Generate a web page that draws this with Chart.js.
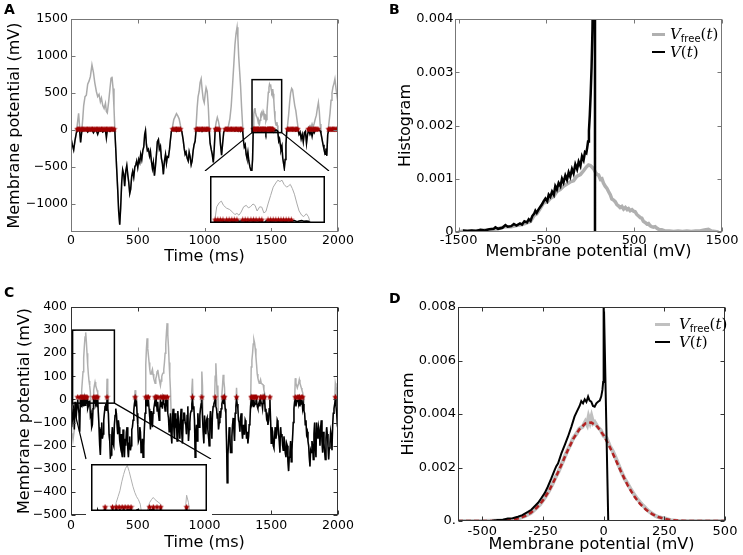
<!DOCTYPE html>
<html>
<head>
<meta charset="utf-8">
<title>Membrane potential and histograms</title>
<script src="https://cdn.jsdelivr.net/npm/chart.js@4.4.1/dist/chart.umd.min.js"></script>
<style>
  html, body { margin: 0; padding: 0; background: #fff; }
  #fig { position: relative; width: 743px; height: 555px; overflow: hidden; }
  #fig canvas { position: absolute; }
  .inset { background: #fff; }
  .panel { position: absolute; font: bold 14px "DejaVu Sans", sans-serif; line-height: 14px; }
  .leg { position: absolute; font: 15px "DejaVu Serif", serif; line-height: 18px; white-space: nowrap; }
  .leg sub { font: 10px "DejaVu Sans", sans-serif; vertical-align: -3px; }
  .sw { position: absolute; height: 0; }
</style>
</head>
<body>
<div id="fig">
  <canvas id="chartA" width="372" height="278" style="left:0;top:0"></canvas>
  <canvas id="chartB" width="371" height="278" style="left:372px;top:0"></canvas>
  <canvas id="chartC" width="372" height="277" style="left:0;top:278px"></canvas>
  <canvas id="chartD" width="371" height="277" style="left:372px;top:278px"></canvas>
  <canvas id="insetA" class="inset" width="125" height="57" style="left:205px;top:171px"></canvas>
  <canvas id="insetC" class="inset" width="126" height="57" style="left:86px;top:459px"></canvas>

  <div class="panel" style="left:4px;top:2px">A</div>
  <div class="panel" style="left:389px;top:2px">B</div>
  <div class="panel" style="left:4px;top:285px">C</div>
  <div class="panel" style="left:389px;top:291px">D</div>

  <div class="sw" style="left:652px;top:33px;width:13px;border-top:3px solid #b0b0b0"></div>
  <div class="leg" style="left:670px;top:25px"><i>V</i><sub>free</sub>(<i>t</i>)</div>
  <div class="sw" style="left:652px;top:51px;width:13px;border-top:2.5px solid #000"></div>
  <div class="leg" style="left:670px;top:43px"><i>V</i>(<i>t</i>)</div>

  <div class="sw" style="left:655px;top:323px;width:15px;border-top:3px solid #c0c0c0"></div>
  <div class="leg" style="left:679px;top:315px"><i>V</i><sub>free</sub>(<i>t</i>)</div>
  <div class="sw" style="left:655px;top:341px;width:15px;border-top:2.5px solid #000"></div>
  <div class="leg" style="left:679px;top:333px"><i>V</i>(<i>t</i>)</div>
</div>

<script>
// ---- panel A: membrane potential trace (ms, mV) ----
const timeA = [
  0,10,20,30,40,50,57,65,72,80,
  88,95,105,115,125,135,145,157,168,178,
  190,200,210,220,228,238,248,258,265,272,
  282,292,300,307,315,322,328,335,342,350,
  357,365,372,380,387,395,402,410,418,425,
  432,440,447,455,462,470,478,485,492,500,
  508,515,522,530,538,545,552,558,565,572,
  580,588,595,602,610,617,625,632,640,647,
  655,662,670,677,685,692,700,708,715,722,
  730,738,745,752,760,770,780,790,800,810,
  820,830,840,848,855,862,870,878,885,892,
  900,907,915,922,930,937,945,952,960,967,
  975,982,990,998,1005,1012,1020,1028,1035,1042,
  1050,1058,1066,1073,1080,1088,1096,1104,1112,1120,
  1128,1136,1144,1152,1160,1170,1180,1190,1200,1210,
  1220,1228,1236,1244,1250,1256,1263,1270,1278,1285,
  1292,1298,1305,1312,1318,1325,1332,1340,1347,1354,
  1360,1365,1369,1374,1378,1382,1388,1394,1400,1404,
  1408,1412,1416,1421,1426,1430,1434,1439,1443,1447,
  1452,1456,1460,1464,1468,1473,1478,1483,1487,1491,
  1495,1499,1504,1508,1511,1515,1519,1524,1528,1533,
  1537,1542,1546,1550,1556,1562,1568,1573,1580,1586,
  1592,1598,1604,1610,1616,1622,1630,1638,1645,1653,
  1660,1668,1676,1684,1692,1700,1708,1716,1724,1732,
  1740,1748,1756,1764,1772,1780,1790,1798,1806,1814,
  1822,1830,1838,1846,1853,1860,1866,1872,1880,1888,
  1895,1903,1910,1916,1923,1930,1940,1948,1955,1962,
  1970,1977,1985,1992,2000
];
const vFreeA = [
  -110,-200,-270,-140,-40,120,225,30,-170,-30,
  150,330,450,470,620,660,720,880,780,640,
  520,450,480,380,430,330,290,360,250,230,
  380,560,700,720,560,300,20,-250,-520,-810,
  -1100,-1280,-1050,-700,-540,-600,-760,-560,-480,-600,
  -700,-860,-800,-620,-560,-640,-500,-470,-420,-510,
  -400,-440,-330,-400,-280,-230,-60,-10,-200,-280,
  -260,-350,-290,-420,-520,-440,-620,-500,-330,-160,
  -130,-260,-220,-380,-460,-600,-420,-330,-450,-360,
  -370,-260,-130,-20,40,140,180,220,190,150,
  60,-20,-130,-250,-330,-300,-380,-420,-300,-360,
  -470,-420,-280,-200,-150,50,300,450,520,640,
  690,550,420,370,480,570,520,330,60,-180,
  -260,-330,-440,-250,20,110,170,120,40,-200,
  -340,-180,-30,10,30,20,60,150,320,600,
  900,1150,1300,1390,1250,1000,800,600,300,80,
  -150,-230,-200,-330,-380,-300,-420,-500,-540,-570,
  -400,-10,211,275,297,233,190,169,126,92,
  110,83,130,211,233,195,211,254,232,147,
  211,205,118,140,254,382,510,574,616,595,
  616,552,510,531,552,488,403,254,147,83,
  62,105,60,-40,-150,-120,-200,-270,-220,-380,
  -450,-520,-400,-200,-20,60,200,380,500,560,
  540,430,330,260,150,40,-60,-30,-120,-60,
  -160,-40,-20,-180,-60,40,60,30,80,40,
  90,150,200,300,370,250,80,-40,-120,-200,
  -260,-330,-250,-350,-60,60,220,400,500,580,
  630,690,560,470,360
];
const vA = [
  -110,-200,-270,-140,-40,-5,0,-20,-170,-30,
  0,-10,-5,0,-30,-5,-10,0,-40,-5,
  -10,-60,-5,-15,-5,-30,-10,-5,-110,-10,
  -5,-20,-5,0,-10,-5,0,-250,-520,-810,
  -1100,-1280,-1050,-700,-540,-600,-760,-560,-480,-600,
  -700,-860,-800,-620,-560,-640,-500,-470,-420,-510,
  -400,-440,-330,-400,-280,-230,-60,-10,-200,-280,
  -260,-350,-290,-420,-520,-440,-620,-500,-330,-160,
  -130,-260,-220,-380,-460,-600,-420,-330,-450,-360,
  -370,-260,-130,-20,-5,-10,0,-20,-5,-15,
  0,-20,-130,-250,-330,-300,-380,-420,-300,-360,
  -470,-420,-280,-200,-150,-5,-10,0,-15,-5,
  0,-20,-5,-10,0,-15,-5,0,-10,-180,
  -260,-330,-440,-250,-5,-10,0,-10,-5,-200,
  -340,-180,-30,-5,0,-10,-5,0,-10,-5,
  0,-15,-5,0,-10,-5,0,-20,-5,0,
  -150,-230,-200,-330,-380,-300,-420,-500,-540,-570,
  -400,-10,-5,-5,0,-10,-5,0,-15,-5,
  0,-10,-5,0,-20,-5,0,-10,-5,0,
  -10,-5,-40,-5,0,-10,-5,0,-10,-5,
  0,-20,-5,0,-10,-5,0,-15,-5,0,
  -10,-5,-10,-40,-150,-120,-200,-270,-220,-380,
  -450,-520,-400,-200,-20,-5,-10,0,-5,0,
  -10,-5,0,-15,-5,0,-60,-30,-120,-60,
  -160,-40,-20,-180,-60,-5,-60,-20,-90,-10,
  -40,-5,0,-10,0,-5,-10,-40,-120,-200,
  -260,-330,-250,-350,-60,-5,-10,0,-5,0,
  -10,-5,0,-10,-5
];
const spikesA = [
  47,57,66,76,85,95,104,114,123,133,142,152,161,171,180,190,199,209,218,228,
  237,247,256,266,275,285,294,304,313,323,
  762,771,781,790,800,809,819,
  938,947,957,966,976,985,995,1004,1014,1023,1032,
  1082,1091,1100,1109,
  1155,1164,1174,1183,1193,1202,1212,1221,1231,1240,1250,1259,1269,1278,
  1366,1371,1376,1381,1388,1393,1398,1403,1408,
  1419,1424,1429,1435,1440,1445,1451,1456,
  1468,1473,1478,1483,1488,1493,1498,1503,1508,1513,
  1622,1631,1641,1650,1660,1669,1679,1688,1698,
  1778,1787,1796,1805,1814,1823,1832,1841,1850,
  1930,1939,1948,1958,1967,1976,1986,1995
];
const spikeLevelA = 10;
const insetTA = [1356, 1578];
const insetVA = [-36, 680];
const ticksAX = [0, 500, 1000, 1500, 2000];
const labelsAX = ['0', '500', '1000', '1500', '2000'];
const ticksAY = [-1000, -500, 0, 500, 1000, 1500];
const labelsAY = ['\u22121000', '\u2212500', '0', '500', '1000', '1500'];

// ---- panel B: histograms ----
const binsVB = [-1450,-1400,-1350,-1300,-1250,-1200,-1150,-1100,-1080,-1050,
  -1000,-966,-940,-900,-870,-840,-800,-777,-750,-720,
  -700,-680,-660,-640,-625,-610,-590,-570,-549,-530,
  -510,-490,-473,-455,-435,-415,-398,-380,-360,-340,
  -322,-305,-284,-265,-246,-228,-208,-190,-170,-150,
  -132,-112,-94,-76,-60,-45,-35,-25,-15,-5,
  5,15,25,33,50,54];
const histVB = [0.00003,0.00002,0.00003,0.00002,0.00004,0.00003,0.00005,0.00006,0.00009,0.00006,
  0.00008,0.00013,0.0001,0.00011,0.00015,0.00012,0.00016,0.00014,0.0002,0.00018,
  0.00024,0.00021,0.0003,0.00034,0.0004,0.00036,0.00042,0.00047,0.00052,0.00058,
  0.00063,0.00058,0.0007,0.00066,0.00076,0.0007,0.00086,0.0008,0.00092,0.00086,
  0.001,0.00093,0.00106,0.00098,0.00112,0.00104,0.00118,0.0011,0.00127,0.00118,
  0.00132,0.00124,0.00142,0.00135,0.0015,0.00148,0.00158,0.0017,0.0019,0.0022,
  0.0026,0.0031,0.0038,0.0048,0.05,0];
const binsFB = [-1500,-1450,-1350,-1250,-1150,-1050,-966,-900,-840,-777,
  -720,-680,-640,-610,-570,-530,-490,-455,-415,-380,
  -340,-305,-265,-228,-190,-150,-112,-76,-45,-20,
  0,19,40,57,76,95,115,133,150,170,
  190,208,228,246,265,284,305,322,340,360,
  380,400,420,436,455,475,493,511,530,550,
  570,587,605,625,645,663,680,700,720,739,
  760,780,800,814,850,900,950,1000,1050,1100,
  1150,1200,1250,1300,1345,1380,1420,1460];
const histFB = [0,0.00002,0.00002,0.00003,0.00004,0.00006,0.0001,0.0001,0.00012,0.00014,
  0.00017,0.0002,0.00031,0.00034,0.00044,0.00055,0.00056,0.00063,0.00067,0.00076,
  0.0008,0.00086,0.0009,0.00094,0.00096,0.00105,0.00108,0.00115,0.00122,0.00126,
  0.00125,0.00122,0.00118,0.00113,0.00108,0.00107,0.00099,0.001,0.00092,0.00086,
  0.00082,0.00076,0.0007,0.00062,0.0006,0.00057,0.00051,0.00049,0.00046,0.00048,
  0.00043,0.00046,0.00042,0.00044,0.0004,0.00042,0.00039,0.00038,0.00033,0.0003,
  0.00027,0.00026,0.0002,0.00018,0.00015,0.00016,0.00012,0.0001,0.00009,0.0001,
  0.00007,0.00005,0.00004,0.00004,0.00002,0.00002,0.00001,0.00002,0.00001,0.00002,
  0.00001,0.00002,0.00002,0.00004,0.00005,0.00002,0.00001,0];
const ticksBX = [-1500, -500, 500, 1500];
const labelsBX = ['-1500', '-500', '500', '1500'];
const ticksBY = [0, 0.001, 0.002, 0.003, 0.004];
const labelsBY = ['0', '0.001', '0.002', '0.003', '0.004'];

// ---- panel C: membrane potential trace, 5 ms samples (ms, mV) ----
const timeC = [
  0,5,10,15,20,25,30,35,40,45,50,55,60,65,70,75,80,85,90,95,
  100,105,110,115,120,125,130,135,140,145,150,155,160,165,170,175,180,185,190,195,
  200,205,210,215,220,225,230,235,240,245,250,255,260,265,270,275,280,285,290,295,
  300,305,310,315,320,325,330,335,340,345,350,355,360,365,370,375,380,385,390,395,
  400,405,410,415,420,425,430,435,440,445,450,455,460,465,470,475,480,485,490,495,
  500,505,510,515,520,525,530,535,540,545,550,555,560,565,570,575,580,585,590,595,
  600,605,610,615,620,625,630,635,640,645,650,655,660,665,670,675,680,685,690,695,
  700,705,710,715,720,725,730,735,740,745,750,755,760,765,770,775,780,785,790,795,
  800,805,810,815,820,825,830,835,840,845,850,855,860,865,870,875,880,885,890,895,
  900,905,910,915,920,925,930,935,940,945,950,955,960,965,970,975,980,985,990,995,
  1000,1005,1010,1015,1020,1025,1030,1035,1040,1045,1050,1055,1060,1065,1070,1075,1080,1085,1090,1095,
  1100,1105,1110,1115,1120,1125,1130,1135,1140,1145,1150,1155,1160,1165,1170,1175,1180,1185,1190,1195,
  1200,1205,1210,1215,1220,1225,1230,1235,1240,1245,1250,1255,1260,1265,1270,1275,1280,1285,1290,1295,
  1300,1305,1310,1315,1320,1325,1330,1335,1340,1345,1350,1355,1360,1365,1370,1375,1380,1385,1390,1395,
  1400,1405,1410,1415,1420,1425,1430,1435,1440,1445,1450,1455,1460,1465,1470,1475,1480,1485,1490,1495,
  1500,1505,1510,1515,1520,1525,1530,1535,1540,1545,1550,1555,1560,1565,1570,1575,1580,1585,1590,1595,
  1600,1605,1610,1615,1620,1625,1630,1635,1640,1645,1650,1655,1660,1665,1670,1675,1680,1685,1690,1695,
  1700,1705,1710,1715,1720,1725,1730,1735,1740,1745,1750,1755,1760,1765,1770,1775,1780,1785,1790,1795,
  1800,1805,1810,1815,1820,1825,1830,1835,1840,1845,1850,1855,1860,1865,1870,1875,1880,1885,1890,1895,
  1900,1905,1910,1915,1920,1925,1930,1935,1940,1945,1950,1955,1960,1965,1970,1975,1980,1985,1990,1995,
  2000
];
const vC = [
  -60,-120,-90,-40,-60,-130,-10,-50,-70,-20,0,-40,-60,-140,0,-30,0,-20,-5,-30,
  0,-25,-5,-10,0,-40,-30,-10,-5,-70,-60,-120,-110,-40,-5,-10,0,-20,-10,-30,
  0,-60,-120,-200,-240,-130,-100,-170,-150,-90,-60,-30,-20,-50,0,-40,-60,-150,-180,-250,
  -240,-160,-120,-190,-200,-110,-70,-40,-60,-110,-150,-90,-120,-180,-200,-150,-230,-250,-130,-180,
  -250,-170,-200,-140,-120,-210,-250,-190,-160,-220,-200,-130,-120,-90,-50,-20,0,-30,-5,-60,
  -110,-180,-170,-120,-140,-230,-220,-170,-250,-200,-120,-60,0,-20,-5,-30,0,-40,-80,-130,
  -50,-90,-120,-60,-40,-20,0,-30,-10,-50,-10,-60,-90,-40,0,-30,-10,-40,0,-20,
  -20,-50,0,-30,0,-60,-80,-140,-110,-60,-150,-190,-80,-40,-120,-170,-60,-110,-100,-180,
  -50,-90,-130,-170,-80,-40,-150,-190,-90,-60,-60,-100,-110,-150,-70,-30,-180,-130,-100,-60,
  -50,-20,0,-40,-30,-90,-250,-150,-110,-180,-60,-100,-120,-70,-40,-20,0,-80,-140,-190,
  -70,-120,-150,-90,-80,-130,-160,-200,-90,-50,-110,-170,-60,-30,-20,-10,0,-30,-40,-80,
  -60,-130,-100,-50,-80,-40,-20,-10,0,-20,0,-40,-60,-180,-360,-240,-190,-120,-150,-230,
  -230,-160,-110,-80,-130,-180,-60,-30,0,-20,-40,-90,-100,-140,-80,-60,-130,-170,-110,-150,
  -150,-90,-100,-170,-140,-190,-160,-110,-100,-30,0,-20,-10,-30,0,-25,-20,-5,0,-30,
  -40,-20,-10,-30,0,-15,-20,-40,0,-20,0,-50,-40,-80,-70,-110,-90,-40,0,-90,
  -190,-120,-140,-200,-210,-160,-120,-170,-150,-90,-100,-150,-180,-230,-120,-160,-150,-200,-220,-160,
  -180,-230,-250,-190,-200,-270,-310,-250,-230,-180,-270,-220,-160,-100,-40,-10,0,-30,-10,-5,
  0,-20,0,-30,-5,-20,0,-40,-20,-50,-60,-110,-90,-150,-140,-180,-200,-250,-290,-220,
  -230,-180,-200,-260,-150,-100,-210,-250,-100,-140,-170,-120,-140,-200,-120,-90,-180,-230,-140,-190,
  -230,-260,-170,-120,-150,-200,-260,-210,-190,-140,-160,-220,-110,-60,-40,-20,0,-30,-60,-110,
  -130
];
const vFreeC = [
  -60,-150,-150,-175,-175,-130,-80,-50,-70,-20,0,-40,-60,-140,0,-30,40,80,120,180,
  230,270,290,250,200,150,110,80,60,30,-60,-120,-110,0,40,60,75,60,50,40,
  30,-60,-120,-200,-240,-130,-100,-170,-150,-90,-60,-30,-20,-50,90,40,-60,-150,-180,-250,
  -240,-160,-120,-190,-200,-110,-70,-40,-60,-110,-150,-90,-120,-180,-200,-150,-230,-250,-130,-180,
  -250,-170,-200,-140,-120,-210,-250,-190,-160,-220,-200,-130,-120,-90,-50,-20,40,20,10,-60,
  -110,-180,-170,-120,-140,-230,-220,-170,-250,-200,-120,-60,150,220,265,220,190,160,130,110,
  110,120,130,110,90,80,70,90,100,120,128,110,90,75,60,80,100,110,114,130,
  160,200,240,290,330,280,230,160,100,40,-60,-190,-80,-40,-120,-170,-60,-110,-100,-180,
  -50,-90,-130,-170,-80,-40,-150,-190,-90,-60,-60,-100,-110,-150,-70,-30,-180,-130,-100,-60,
  -50,40,90,-40,-30,-90,-250,-150,-110,-180,-60,-100,-120,-70,-40,20,121,60,-140,-190,
  -70,-120,-150,-90,-80,-130,-160,-200,-90,-50,-110,-170,-60,-30,-20,-10,100,157,90,20,
  60,-130,-100,-50,-80,-40,20,60,107,80,50,-40,-60,-180,-360,-240,-190,-120,-150,-230,
  -230,-160,-110,-80,-130,-180,-60,-30,50,-20,-40,-90,-100,-140,-80,-60,-130,-170,-110,-150,
  -150,-90,-100,-170,-140,-190,-160,-110,-100,-30,140,170,200,240,258,245,220,186,150,110,
  92,80,70,75,85,70,70,65,63,40,27,-50,-40,-80,-70,-110,-90,-40,20,-90,
  -190,-120,-140,-200,-210,-160,-120,-170,-150,-90,-100,-150,-180,-230,-120,-160,-150,-200,-220,-160,
  -180,-230,-250,-190,-200,-270,-310,-250,-230,-180,-270,-220,-160,-100,-40,-10,92,70,60,50,
  50,70,85,70,60,50,40,30,10,-50,-60,-110,-90,-150,-140,-180,-200,-250,-290,-220,
  -230,-180,-200,-260,-150,-100,-210,-250,-100,-140,-170,-120,-140,-200,-120,-90,-180,-230,-140,-190,
  -230,-260,-170,-120,-150,-200,-260,-210,-190,-140,-160,-220,-110,-60,-40,-20,70,55,40,-110,
  -130
];
const spikesC = [50,70,80,88,96,104,112,120,170,180,190,200,270,480,560,570,580,630,640,650,
  672,682,692,702,712,722,910,980,1080,1140,1150,1240,1350,1358,1366,1374,1382,1390,
  1420,1430,1440,1450,1490,1680,1695,1705,1712,1725,1735,1980];
const spikeLevelC = 10;
const insetTC = [12, 325];
const insetVC = [-16, 300];
const ticksCY = [-500, -400, -300, -200, -100, 0, 100, 200, 300, 400];
const labelsCY = ['\u2212500', '\u2212400', '\u2212300', '\u2212200', '\u2212100', '0', '100', '200', '300', '400'];

// ---- panel D: histograms + fit ----
const binsVD = [-600,-500,-460,-436,-415,-395,-375,-353,-335,-312,
  -298,-285,-270,-257,-243,-230,-216,-202,-195,-188,
  -174,-160,-147,-133,-120,-110,-99,-92,-85,-78,
  -71,-64,-58,-51,-44,-37,-30,-23,-16,-10,
  -5,-2,0,19];
const histVD = [0,0,0.00001,0.00004,0.00005,0.00009,0.0001,0.00016,0.00022,0.00034,
  0.00042,0.00054,0.00068,0.00085,0.00104,0.00128,0.00158,0.0019,0.00205,0.00215,
  0.00253,0.00285,0.00315,0.00352,0.0039,0.0041,0.0043,0.00448,0.0044,0.00455,
  0.00445,0.00465,0.0045,0.00446,0.0043,0.00427,0.0044,0.00446,0.0045,0.00465,
  0.0049,0.0052,0.0086,0];
const binsFD = [-600,-500,-450,-400,-375,-350,-325,-300,-287,-275,
  -262,-250,-237,-225,-212,-200,-187,-175,-162,-150,
  -137,-125,-112,-100,-87,-75,-68,-62,-56,-50,
  -43,-37,-25,-12,0,12,25,37,50,62,
  75,87,100,112,125,137,150,162,175,187,
  200,212,225,237,250,262,275,300,350,500];
const histFD = [0,0,0.00001,0.00003,0.00005,0.0001,0.00018,0.0003,0.0004,0.0005,
  0.00062,0.00077,0.00095,0.00113,0.00136,0.0016,0.00183,0.00208,0.00236,0.00262,
  0.00285,0.0031,0.00326,0.00345,0.00352,0.00372,0.0036,0.00388,0.0037,0.0039,
  0.00365,0.0037,0.00352,0.0034,0.00318,0.0031,0.0028,0.00262,0.00235,0.00208,
  0.0018,0.00157,0.00137,0.00118,0.001,0.00084,0.0007,0.00058,0.00046,0.00036,
  0.00028,0.0002,0.00015,0.00012,0.0001,0.00007,0.00003,0.00001,0,0];
const binsGD = [-600,-500,-450,-400,-375,-350,-325,-300,-275,-250,
  -225,-200,-175,-150,-125,-100,-75,-50,-25,0,
  25,50,75,100,125,150,175,200,225,250,
  275,300,350,500];
const fitD = [0,0,0.000005,0.000026,0.000053,0.0001,0.00018,0.00031,0.0005,0.00077,
  0.00113,0.00158,0.00208,0.0026,0.00307,0.00343,0.00365,0.00368,0.00352,0.0032,
  0.00277,0.00228,0.00178,0.00132,0.00094,0.00064,0.00042,0.00026,0.00015,0.00008,
  0.00004,0.00002,0,0];
const ticksDX = [-500, -250, 0, 250, 500];
const labelsDX = ['-500', '-250', '0', '250', '500'];
const ticksDY = [0, 0.002, 0.004, 0.006, 0.008];
const labelsDY = ['0.', '0.002', '0.004', '0.006', '0.008'];

// ---- helpers ----
const RED = '#a00000';
const tickFontAC = { family: 'DejaVu Sans', size: 12.5 };
const tickFontBD = { family: 'DejaVu Sans', size: 13 };
const titleFont = { family: 'DejaVu Sans', size: 16 };

function makeStar(size, color) {
  const c = document.createElement('canvas');
  c.width = c.height = size;
  const g = c.getContext('2d');
  const r = size / 2;
  g.beginPath();
  for (let k = 0; k < 10; k++) {
    const a = -Math.PI / 2 + k * Math.PI / 5;
    const rr = k % 2 ? r * 0.45 : r - 0.2;
    g.lineTo(r + rr * Math.cos(a), r + rr * Math.sin(a));
  }
  g.closePath();
  g.fillStyle = color;
  g.fill();
  return c;
}
const star = makeStar(7, RED);

const xy = (xs, ys) => xs.map((x, i) => ({ x: x, y: ys[i] }));
const atLevel = (ts, level) => ts.map(t => ({ x: t, y: level }));

function lineSet(data, color, width, order, extra) {
  return Object.assign({ data: data, showLine: true, borderColor: color, borderWidth: width,
    pointRadius: 0, tension: 0, order: order }, extra || {});
}
function spikeSet(data) {
  return { data: data, showLine: false, pointStyle: star, pointRadius: 3, order: 0 };
}

// frame around the plot area, with small inward ticks like the original
const framePlugin = {
  id: 'frame',
  afterDatasetsDraw(chart, args, opts) {
    const a = chart.chartArea, ctx = chart.ctx;
    const lw = opts.width || 1, off = lw / 2;
    const l = Math.round(a.left) + off, t = Math.round(a.top) + off;
    const r = Math.round(a.right) - off, b = Math.round(a.bottom) - off;
    ctx.save();
    ctx.strokeStyle = opts.color || '#000';
    ctx.lineWidth = lw;
    ctx.strokeRect(l, t, r - l, b - t);
    if (opts.ticks) {
      const xs = chart.scales.x, ys = chart.scales.y;
      ctx.lineWidth = 1;
      ctx.beginPath();
      xs.ticks.forEach(k => {
        const p = Math.round(xs.getPixelForValue(k.value)) + 0.5;
        ctx.moveTo(p, b); ctx.lineTo(p, b - 4);
        ctx.moveTo(p, t); ctx.lineTo(p, t + 4);
      });
      ys.ticks.forEach(k => {
        const p = Math.round(ys.getPixelForValue(k.value)) + 0.5;
        ctx.moveTo(l, p); ctx.lineTo(l + 4, p);
        ctx.moveTo(r, p); ctx.lineTo(r - 4, p);
      });
      ctx.stroke();
    }
    ctx.restore();
  }
};

// zoom rectangle + lines that lead to the inset
const zoomPlugin = {
  id: 'zoomBox',
  afterDatasetsDraw(chart, args, o) {
    const xs = chart.scales.x, ys = chart.scales.y, ctx = chart.ctx;
    const x0 = xs.getPixelForValue(o.t[0]), x1 = xs.getPixelForValue(o.t[1]);
    const y0 = ys.getPixelForValue(o.v[1]), y1 = ys.getPixelForValue(o.v[0]);
    ctx.save();
    ctx.strokeStyle = '#000';
    ctx.lineWidth = 1.5;
    ctx.strokeRect(x0, y0, x1 - x0, y1 - y0);
    ctx.lineWidth = 1.2;
    ctx.beginPath();
    ctx.moveTo(x0, y1); ctx.lineTo(o.to[0], o.to[1]);
    ctx.moveTo(x1, y1); ctx.lineTo(o.to[2], o.to[1]);
    ctx.stroke();
    ctx.restore();
  }
};

function axis(a, font, fit) {
  return {
    type: 'linear', min: a.min, max: a.max,
    grid: { display: false, drawTicks: false }, border: { display: false },
    afterBuildTicks: s => { s.ticks = a.ticks.map(v => ({ value: v })); },
    afterFit: fit,
    ticks: { autoSkip: false, maxRotation: 0, padding: a.pad, font: font, color: '#000',
      callback: (v, i) => a.labels[i] },
    title: { display: true, text: a.title, font: titleFont, color: '#000', padding: a.tpad }
  };
}

function mainChart(id, o) {
  const el = document.getElementById(id);
  const W = el.width, H = el.height;
  return new Chart(el, {
    type: 'scatter',
    data: { datasets: o.datasets },
    options: {
      responsive: false, animation: false, events: [],
      layout: { padding: { left: 0, top: o.area[1], right: W - o.area[2], bottom: 0 } },
      plugins: {
        legend: { display: false }, tooltip: { enabled: false },
        frame: { color: o.frame, ticks: true },
        zoomBox: o.zoom || false
      },
      scales: {
        x: axis(o.x, o.font, s => { s.height = H - o.area[3]; }),
        y: axis(o.y, o.font, s => { s.width = o.area[0]; })
      }
    },
    plugins: [framePlugin, zoomPlugin]
  });
}

function insetChart(id, datasets, tr, vr) {
  return new Chart(document.getElementById(id), {
    type: 'scatter',
    data: { datasets: datasets },
    options: {
      responsive: false, animation: false, events: [],
      layout: { padding: 0 },
      plugins: { legend: { display: false }, tooltip: { enabled: false }, frame: { color: '#000', width: 1.5 } },
      scales: {
        x: { type: 'linear', display: false, min: tr[0], max: tr[1] },
        y: { type: 'linear', display: false, min: vr[0], max: vr[1] }
      }
    },
    plugins: [framePlugin]
  });
}

// ---- A ----
mainChart('chartA', {
  area: [71, 19, 338, 232], frame: '#777', font: tickFontAC,
  datasets: [
    spikeSet(atLevel(spikesA, spikeLevelA)),
    lineSet(xy(timeA, vA), '#000', 1.5, 1),
    lineSet(xy(timeA, vFreeA), '#aaaaaa', 1.5, 2)
  ],
  x: { min: 0, max: 2000, ticks: ticksAX, labels: labelsAX, pad: 1.5, title: 'Time (ms)', tpad: { top: 0, bottom: 12 } },
  y: { min: -1380, max: 1500, ticks: ticksAY, labels: labelsAY, pad: 3, title: 'Membrane potential (mV)', tpad: { top: 5, bottom: 0 } },
  zoom: { t: insetTA, v: insetVA, to: [205, 171, 329] }
});
insetChart('insetA', [
  spikeSet(atLevel(spikesA, spikeLevelA)),
  lineSet(xy(timeA, vA), '#000', 1.5, 1),
  lineSet(xy(timeA, vFreeA), '#aaaaaa', 1, 2)
], insetTA, insetVA);

// ---- B ----
mainChart('chartB', {
  area: [83, 19, 350, 232], frame: '#777', font: tickFontBD,
  datasets: [
    lineSet(xy(binsVB, histVB), '#000', 2.5, 1),
    lineSet(xy(binsFB, histFB), '#b0b0b0', 3.5, 2)
  ],
  x: { min: -1540, max: 1500, ticks: ticksBX, labels: labelsBX, pad: 0.5, title: 'Membrane potential (mV)', tpad: { top: 0, bottom: 17 } },
  y: { min: 0, max: 0.004, ticks: ticksBY, labels: labelsBY, pad: 1.5, title: 'Histogram', tpad: { top: 24, bottom: 0 } }
});

// ---- C ----
mainChart('chartC', {
  area: [71, 29, 338, 237], frame: '#333', font: tickFontAC,
  datasets: [
    spikeSet(atLevel(spikesC, spikeLevelC)),
    lineSet(xy(timeC, vC), '#000', 1.5, 1),
    lineSet(xy(timeC, vFreeC), '#b0b0b0', 1.5, 2)
  ],
  x: { min: 0, max: 2000, ticks: ticksAX, labels: labelsAX, pad: 3.5, title: 'Time (ms)', tpad: { top: 0, bottom: 3 } },
  y: { min: -500, max: 400, ticks: ticksCY, labels: labelsCY, pad: 4, title: 'Membrane potential (mV)', tpad: { top: 15, bottom: 0 } },
  zoom: { t: insetTC, v: insetVC, to: [86, 181, 211] }
});
insetChart('insetC', [
  spikeSet(atLevel(spikesC, spikeLevelC)),
  lineSet(xy(timeC, vC), '#000', 1.5, 1),
  lineSet(xy(timeC, vFreeC), '#b0b0b0', 1, 2)
], insetTC, insetVC);

// ---- D ----
mainChart('chartD', {
  area: [86, 29, 353, 243], frame: '#333', font: tickFontBD,
  datasets: [
    lineSet(xy(binsVD, histVD), '#000', 2, 0),
    lineSet(xy(binsGD, fitD), '#b22222', 2.5, 1, { borderDash: [5, 3] }),
    lineSet(xy(binsFD, histFD), '#c0c0c0', 4, 2)
  ],
  x: { min: -600, max: 500, ticks: ticksDX, labels: labelsDX, pad: 3, title: 'Membrane potential (mV)', tpad: { top: 0, bottom: 0.5 } },
  y: { min: 0, max: 0.008, ticks: ticksDY, labels: labelsDY, pad: 2, title: 'Histogram', tpad: { top: 27, bottom: 0 } }
});
</script>
</body>
</html>
